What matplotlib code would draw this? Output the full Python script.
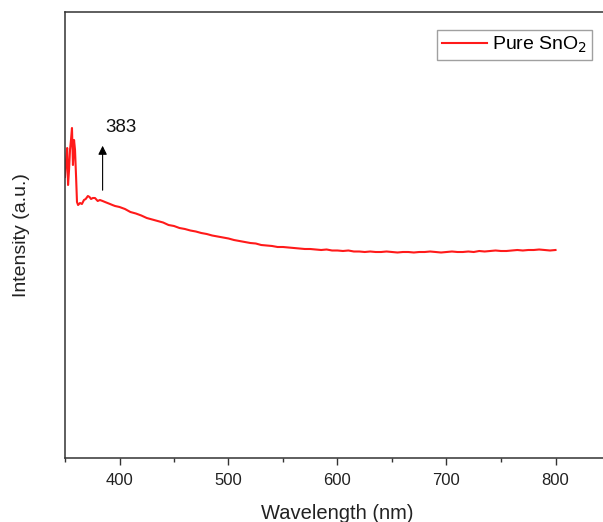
import matplotlib
matplotlib.use("Agg")
import matplotlib.pyplot as plt
from matplotlib.ticker import MultipleLocator

plt.rcParams['font.family'] = ['Liberation Sans', 'DejaVu Sans']

# PL spectrum (arbitrary units)
wavelength = [350, 351, 352, 352.8, 353.7, 354.6, 355.5, 356.4, 357.3, 358.3, 359.2,
              360.2, 361, 362, 363.8, 365.5, 367.4, 369, 371, 372.5, 373.9, 375.5,
              377.5, 380, 382, 384.5, 386.7, 389, 391.3, 393.5, 395.9, 398, 400,
              405, 410, 415, 420, 425, 430, 435, 440, 445, 450, 455, 460, 465, 470,
              475, 480, 485, 490, 495, 500, 505, 510, 515, 520, 525, 530, 535, 540,
              545, 550, 555, 560, 565, 570, 575, 580, 585, 590, 595, 600, 605, 610,
              615, 620, 625, 630, 635, 640, 645, 650, 655, 660, 665, 670, 675, 680,
              685, 690, 695, 700, 705, 710, 715, 720, 725, 730, 735, 740, 745, 750,
              755, 760, 765, 770, 775, 780, 785, 790, 795, 800]
intensity = [281, 298, 310, 273, 288, 308, 318, 330, 293, 318, 308,
             280, 256, 253, 255, 254, 258, 259, 262, 261, 259, 260,
             260, 257, 258, 257, 256, 255, 254, 253, 252, 251.5, 251,
             249, 246, 244.5, 242.5, 240, 238.5, 237, 235.5, 233, 232, 230, 229, 227.5, 226.5,
             225, 224, 222.5, 221.5, 220.5, 219.5, 218, 217, 216, 215, 214.5, 213, 212.5, 212,
             211, 211, 210.5, 210, 209.5, 209, 209, 208.5, 208, 208.5, 207.5, 207.5, 207, 207.5,
             206.5, 206.5, 206, 206.5, 206, 206, 206.5, 206, 205.5, 206, 206, 205.5, 206, 206,
             206.5, 206, 205.5, 206, 206.5, 206, 206, 206.5, 206, 207, 206.5, 207, 207.5, 207,
             207, 207.5, 208, 207.5, 208, 208, 208.5, 208, 207.5, 208]

peak_nm = 383

fig = plt.figure(figsize=(6.03, 5.22), dpi=100)
ax = fig.add_axes([65 / 603, 64 / 522, 545 / 603, 446 / 522])

ax.plot(wavelength, intensity, color='#ff1a1a', lw=1.5, label='Pure SnO$_2$')

ax.annotate('', xy=(peak_nm + 1.5, 315), xytext=(peak_nm + 1.5, 265),
            arrowprops=dict(arrowstyle='-|>', color='black', lw=0.8,
                            mutation_scale=13))
ax.text(peak_nm + 4, 331, str(peak_nm), fontsize=13.5, va='center', ha='left',
        color='#111111')

ax.set_xlim(350, 850)
ax.set_ylim(0, 446)
ax.xaxis.set_major_locator(MultipleLocator(100))
ax.xaxis.set_minor_locator(MultipleLocator(50))
ax.set_yticks([])
ax.tick_params(axis='x', which='major', length=5, width=1, direction='out', pad=6,
               labelsize=12, colors='#333333', labelcolor='#222222')
ax.tick_params(axis='x', which='minor', length=3, width=1, direction='out',
               colors='#333333')
for sp in ax.spines.values():
    sp.set_color('#333333')
    sp.set_linewidth(1.1)

ax.set_xlabel('Wavelength (nm)', fontsize=14.5, color='#222222', labelpad=11)
ax.set_ylabel('Intensity (a.u.)', fontsize=14, color='#222222', labelpad=25)

leg = ax.legend(loc='upper left', bbox_to_anchor=(372 / 545, 428 / 446), fontsize=14,
                frameon=True, fancybox=False, edgecolor='#888888', borderaxespad=0,
                handlelength=2.3, borderpad=0.25, handletextpad=0.3)
leg.get_frame().set_linewidth(1.0)

fig.savefig('out.png', dpi=100)
